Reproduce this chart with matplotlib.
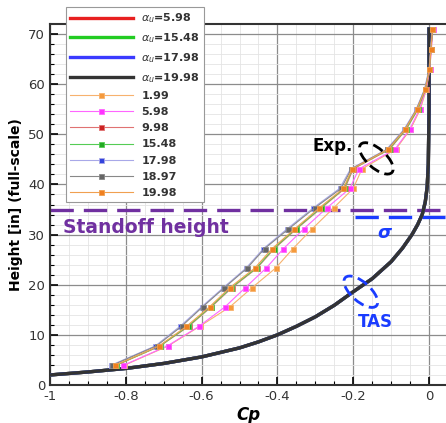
import matplotlib.pyplot as plt
from matplotlib.patches import Ellipse
from matplotlib.transforms import ScaledTranslation

# TAS profile, same shape for every alpha_u
tas_cp = [-1.0, -0.9, -0.8, -0.7, -0.6, -0.5, -0.45, -0.4, -0.35, -0.3, -0.25, -0.2, -0.15,
          -0.1, -0.07, -0.045, -0.03, -0.018, -0.01, -0.005, -0.002, 0.0, 0.0]
tas_height = [2.0, 2.6, 3.3, 4.3, 5.6, 7.4, 8.6, 10.0, 11.7, 13.6, 15.9, 18.6, 21.2,
              24.6, 27.3, 30.0, 32.0, 34.0, 36.5, 39.5, 44.0, 55.0, 71.0]
tas_alpha = ['5.98', '15.48', '17.98', '19.98']
tas_colors = ['#e82020', '#22cc22', '#3a3aff', '#333333']

# measured profiles
exp_height = [3.9, 7.8, 11.7, 15.6, 19.4, 23.3, 27.2, 31.1, 35.3, 39.2, 43.1, 47.0, 51.0, 55.0, 59.0, 63.1, 67.0, 71.0]
exp_alpha = ['1.99', '5.98', '9.98', '15.48', '17.98', '18.97', '19.98']
exp_cp = {
    '1.99':  [-0.805, -0.688, -0.605, -0.525, -0.467, -0.405, -0.359, -0.309, -0.252, -0.200, -0.177, -0.088, -0.049, -0.023, -0.007, 0.002, 0.006, 0.010],
    '5.98':  [-0.807, -0.690, -0.607, -0.538, -0.485, -0.430, -0.384, -0.331, -0.270, -0.209, -0.185, -0.090, -0.051, -0.025, -0.008, 0.002, 0.006, 0.010],
    '9.98':  [-0.826, -0.709, -0.634, -0.574, -0.520, -0.454, -0.408, -0.350, -0.284, -0.222, -0.200, -0.104, -0.060, -0.029, -0.009, 0.001, 0.005, 0.009],
    '15.48': [-0.827, -0.710, -0.636, -0.576, -0.522, -0.456, -0.410, -0.352, -0.286, -0.224, -0.202, -0.106, -0.061, -0.030, -0.010, 0.001, 0.005, 0.009],
    '17.98': [-0.840, -0.722, -0.657, -0.600, -0.543, -0.483, -0.437, -0.375, -0.306, -0.236, -0.207, -0.112, -0.066, -0.034, -0.012, 0.000, 0.004, 0.008],
    '18.97': [-0.837, -0.719, -0.653, -0.597, -0.540, -0.480, -0.434, -0.371, -0.302, -0.232, -0.205, -0.110, -0.064, -0.033, -0.011, 0.001, 0.005, 0.009],
    '19.98': [-0.829, -0.712, -0.640, -0.579, -0.526, -0.460, -0.414, -0.355, -0.290, -0.226, -0.203, -0.108, -0.063, -0.032, -0.010, 0.001, 0.005, 0.009],
}
exp_line_colors = ['#f7b26e', '#ff66ff', '#e07272', '#55cc55', '#a8a8e8', '#888888', '#f0a050']
exp_mark_colors = ['#f59a3c', '#ff33ff', '#cc2222', '#22aa22', '#3344dd', '#666666', '#f08020']

standoff = 35.0
sigma = 33.5

fig = plt.figure(figsize=(4.46, 4.23), dpi=100)
ax = fig.add_axes([50/446, 38/423, 396/446, 361/423])

for a, c in zip(tas_alpha, tas_colors):
    ax.plot(tas_cp, tas_height, color=c, lw=2.4, label=r'$\alpha_u$=' + a, zorder=3)

for a, lc, mc in zip(exp_alpha, exp_line_colors, exp_mark_colors):
    ax.plot(exp_cp[a], exp_height, color=lc, lw=0.8, marker='s', ms=3.6,
            mfc=mc, mec=lc, mew=0.6, label=a, zorder=4)

ax.axhline(standoff, color='#7030a0', lw=2.4, dashes=(7, 3), zorder=2)
ax.plot([-0.195, 0.05], [sigma, sigma], color='#1a3cff', lw=2.4, dashes=(7, 3), zorder=2)

ax.text(-0.967, 31.4, 'Standoff height', color='#7030a0', fontsize=13.5, fontweight='bold', va='center')
ax.text(-0.118, 30.4, 'σ', color='#1a3cff', fontsize=13,
        fontweight='bold', fontstyle='italic', ha='center', va='center')
ax.text(-0.142, 12.6, 'TAS', color='#1a3cff', fontsize=12, fontweight='bold', ha='center', va='center')
ax.text(-0.255, 47.6, 'Exp.', color='black', fontsize=12, fontweight='bold', ha='center', va='center')

# dashed ellipses drawn at a fixed size in inches
for cx, cy, col in [(-0.139, 45.2, 'black'), (-0.18, 18.6, '#1a3cff')]:
    tr = fig.dpi_scale_trans + ScaledTranslation(cx, cy, ax.transData)
    ax.add_patch(Ellipse((0, 0), 0.42, 0.19, angle=-42, transform=tr, fill=False,
                         edgecolor=col, lw=2.0, ls=(0, (4, 2)), zorder=5, clip_on=False))

ax.set_xlim(-1, 0.0447)
ax.set_ylim(0, 72)
ax.set_xticks([-1, -0.8, -0.6, -0.4, -0.2, 0])
ax.set_xticklabels(['-1', '-0.8', '-0.6', '-0.4', '-0.2', '0'])
ax.set_yticks(range(0, 71, 10))
ax.set_xticks([i * 0.05 - 1 for i in range(21)], minor=True)
ax.set_yticks(range(0, 72, 2), minor=True)
ax.grid(which='major', color='#8c8c8c', lw=0.9)
ax.grid(which='minor', color='#e4e4e4', lw=0.6)
ax.set_axisbelow(True)
ax.tick_params(which='major', direction='in', length=6, width=1.2, labelsize=9.5, labelcolor='#333333')
ax.tick_params(which='minor', direction='in', length=3, width=0.8)
ax.spines['right'].set_visible(False)
for s in ['left', 'bottom', 'top']:
    ax.spines[s].set_linewidth(1.5)
    ax.spines[s].set_color('#333333')

ax.set_xlabel('Cp', fontsize=12, fontweight='bold', fontstyle='italic', labelpad=2)
ax.set_ylabel('Height [in] (full-scale)', fontsize=10, fontweight='bold', labelpad=4)

leg = ax.legend(loc='upper left', bbox_to_anchor=(0.04, 1.047), borderaxespad=0,
                fontsize=8, handlelength=5.6, handletextpad=0.8, labelspacing=0.55,
                fancybox=False, framealpha=1, edgecolor='#999999', borderpad=0.4)
leg.get_frame().set_linewidth(0.8)
for t in leg.get_texts():
    t.set_fontweight('bold')
    t.set_color('#333333')
leg.set_zorder(6)

fig.savefig('out.png', dpi=100)
